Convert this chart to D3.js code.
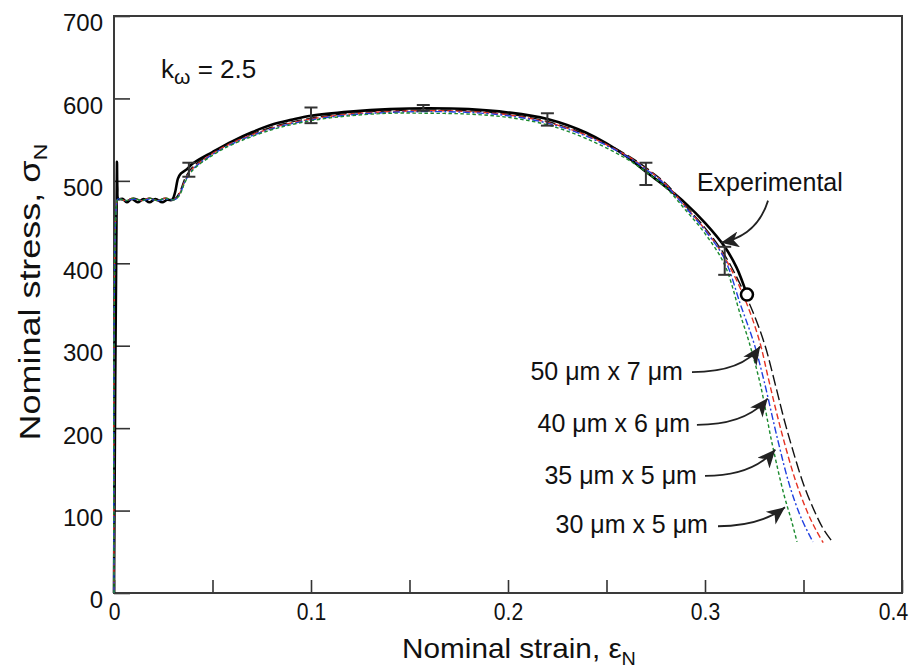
<!DOCTYPE html>
<html>
<head>
<meta charset="utf-8">
<script src="https://cdn.jsdelivr.net/npm/d3@7"></script>
<style>
  body { margin: 0; background: #fff; }
  text { font-family: "Liberation Sans", Arial, sans-serif; fill: #111; }
</style>
</head>
<body>
<svg width="915" height="670"></svg>
<script>
var svg = d3.select("svg"),
    width = +svg.attr("width"),
    height = +svg.attr("height");

// axis ticks
var strainTicks = [0, 0.05, 0.1, 0.15, 0.2, 0.25, 0.3, 0.35, 0.4];
var strainLabels = ["0", "", "0.1", "", "0.2", "", "0.3", "", "0.4"];
var stressTicks = [0, 100, 200, 300, 400, 500, 600, 700];

// experimental curve
var expStrain = [0, 0.0015, 0.0017, 0.0022, 0.0045, 0.0065, 0.009, 0.012, 0.015, 0.018, 0.021, 0.0245, 0.027, 0.0295, 0.031, 0.0325, 0.034, 0.037, 0.04, 0.05, 0.06, 0.07, 0.08, 0.09, 0.10, 0.12, 0.14, 0.16, 0.18, 0.20, 0.22, 0.24, 0.26, 0.27, 0.28, 0.29, 0.30, 0.31, 0.316, 0.3213];
var expStress = [0, 523, 492, 478, 478, 474, 478, 474, 478, 474, 478, 474, 477, 477, 486, 503, 509, 514, 521, 535, 548, 559, 568, 574, 579, 584, 587, 588, 587, 583, 575, 558, 530, 511, 493, 473, 449, 420, 395, 362];

// error bars on the experiment
var errStrain = [0.038, 0.1, 0.157, 0.22, 0.27, 0.31];
var errLow = [505, 570, 585, 567, 495, 386];
var errHigh = [522, 589, 592, 582, 522, 420];

// simulated curves, element size
var simNames = ["50 μm x 7 μm", "40 μm x 6 μm", "35 μm x 5 μm", "30 μm x 5 μm"];

var sim50Strain = [0, 0.0012, 0.002, 0.006, 0.010, 0.014, 0.018, 0.022, 0.026, 0.030, 0.032, 0.034, 0.036, 0.04, 0.05, 0.06, 0.08, 0.10, 0.12, 0.14, 0.16, 0.18, 0.20, 0.22, 0.24, 0.26, 0.27, 0.28, 0.29, 0.30, 0.31, 0.32, 0.325, 0.3305, 0.336, 0.34, 0.344, 0.35, 0.356, 0.36, 0.365];
var sim50Stress = [0, 470, 478, 476, 479, 476, 479, 476, 479, 477, 481, 490, 503, 517, 534, 547, 565, 576, 582, 585, 586, 585, 581, 572, 556, 532, 516, 497, 470, 443, 410, 364, 337, 300, 250, 212, 178, 132, 97, 78, 61];

var sim40Strain = [0, 0.0012, 0.002, 0.006, 0.010, 0.014, 0.018, 0.022, 0.026, 0.030, 0.032, 0.034, 0.036, 0.04, 0.05, 0.06, 0.08, 0.10, 0.12, 0.14, 0.16, 0.18, 0.20, 0.22, 0.24, 0.26, 0.27, 0.28, 0.29, 0.30, 0.31, 0.32, 0.3275, 0.332, 0.336, 0.34, 0.346, 0.352, 0.356, 0.36];
var sim40Stress = [0, 470, 478, 476, 479, 476, 479, 476, 479, 477, 480, 488, 500, 515, 533, 546, 564, 575, 581, 584, 585, 584, 580, 571, 555, 531, 515, 496, 469, 441, 407, 358, 307, 262, 222, 185, 136, 98, 78, 61];

var sim35Strain = [0, 0.0012, 0.002, 0.006, 0.010, 0.014, 0.018, 0.022, 0.026, 0.030, 0.032, 0.034, 0.036, 0.04, 0.05, 0.06, 0.08, 0.10, 0.12, 0.14, 0.16, 0.18, 0.20, 0.22, 0.24, 0.26, 0.27, 0.28, 0.29, 0.30, 0.31, 0.318, 0.325, 0.33, 0.337, 0.343, 0.349, 0.3548];
var sim35Stress = [0, 470, 478, 476, 478, 476, 478, 476, 478, 477, 479, 487, 499, 514, 532, 545, 563, 574, 580, 583, 584, 583, 579, 570, 554, 530, 514, 495, 468, 440, 405, 350, 302, 257, 185, 130, 90, 62];

var sim30Strain = [0, 0.0012, 0.002, 0.006, 0.010, 0.014, 0.018, 0.022, 0.026, 0.030, 0.032, 0.034, 0.036, 0.04, 0.05, 0.06, 0.08, 0.10, 0.12, 0.14, 0.16, 0.18, 0.20, 0.22, 0.24, 0.26, 0.27, 0.28, 0.29, 0.30, 0.31, 0.318, 0.3223, 0.328, 0.334, 0.34, 0.344, 0.3467];
var sim30Stress = [0, 470, 478, 476, 479, 476, 479, 476, 479, 477, 479, 486, 498, 513, 531, 544, 562, 573, 579, 582, 582, 581, 577, 568, 551, 527, 511, 492, 465, 436, 398, 337, 305, 254, 182, 120, 87, 62];

var simColors = ["#111111", "#e53222", "#2040e0", "#1b8a2e"];
var simDashes = ["11,4", "6,3", "7,2.5,2,2.5", "3.5,2.5"];

// annotations (data units)
var labelText = ["Experimental"].concat(simNames);
var labelStrain = [0.2959, 0.2888, 0.2924, 0.2959, 0.3015];
var labelStress = [488, 258, 195, 132, 73];
var labelAnchor = ["start", "end", "end", "end", "end"];
var arrowFrom = [[0.332, 476], [0.2934, 268], [0.2959, 204], [0.3000, 142], [0.3066, 81]];
var arrowCtrl = [[0.3264, 433], [0.3190, 268], [0.3210, 204], [0.3240, 142], [0.3280, 81]];
var arrowTo = [[0.3081, 425], [0.3280, 299], [0.3318, 236], [0.3357, 174], [0.3406, 104]];

var x = d3.scaleLinear().domain([0, 0.4]).range([114, 902]);
var y = d3.scaleLinear().domain([0, 700]).range([593, 16]);

var defs = svg.append("defs");
defs.append("marker")
    .attr("id", "arrowhead")
    .attr("markerUnits", "userSpaceOnUse")
    .attr("markerWidth", 24)
    .attr("markerHeight", 16)
    .attr("refX", 20)
    .attr("refY", 8)
    .attr("orient", "auto")
  .append("path")
    .attr("d", "M20,8 L2,0 L7,8 L2,16 Z")
    .attr("fill", "#222");

// axes, ticks pointing inward
var xAxis = d3.axisBottom(x)
    .tickValues(strainTicks)
    .tickSize(-13)
    .tickPadding(10)
    .tickFormat(function(d, i) { return strainLabels[i]; });

var yAxis = d3.axisLeft(y)
    .tickValues(stressTicks)
    .tickSize(-16)
    .tickPadding(11)
    .tickFormat(function(d) { return d; });

var gx = svg.append("g")
    .attr("transform", "translate(0," + y(0) + ")")
    .call(xAxis);
var gy = svg.append("g")
    .attr("transform", "translate(" + x(0) + ",0)")
    .call(yAxis);

[gx, gy].forEach(function(g) {
  g.select(".domain").remove();
  g.selectAll(".tick line").attr("stroke", "#333").attr("stroke-width", 1.6);
  g.selectAll(".tick text").attr("font-size", 24).attr("fill", "#111")
    .attr("font-family", "Liberation Sans, Arial, sans-serif");
});
gy.selectAll(".tick text").attr("dy", "0.62em");
// strain labels are set narrower in the reference
gx.selectAll(".tick text")
    .attr("transform", function(d, i) { return (i === strainTicks.length - 1 ? "translate(-9,0) " : "") + "scale(0.88,1)"; });

// frame
svg.append("rect")
    .attr("x", x(0))
    .attr("y", y(700))
    .attr("width", x(0.4) - x(0))
    .attr("height", y(0) - y(700))
    .attr("fill", "none")
    .attr("stroke", "#3a3a3a")
    .attr("stroke-width", 2);

var line = d3.line()
    .x(function(d) { return x(d[0]); })
    .y(function(d) { return y(d[1]); })
    .curve(d3.curveCatmullRom.alpha(0.5));

var sims = [
  d3.zip(sim50Strain, sim50Stress),
  d3.zip(sim40Strain, sim40Stress),
  d3.zip(sim35Strain, sim35Stress),
  d3.zip(sim30Strain, sim30Stress)
];

var plot = svg.append("g");

// experimental line
plot.append("path")
    .datum(d3.zip(expStrain, expStress))
    .attr("d", line)
    .attr("fill", "none")
    .attr("stroke", "#000")
    .attr("stroke-width", 2.6)
    .attr("stroke-linejoin", "round");

// simulations drawn on top
sims.forEach(function(s, i) {
  plot.append("path")
      .datum(s)
      .attr("d", line)
      .attr("fill", "none")
      .attr("stroke", simColors[i])
      .attr("stroke-width", 1.4)
      .attr("stroke-dasharray", simDashes[i]);
});

// error bars
var err = plot.selectAll(".err")
    .data(d3.range(errStrain.length))
  .enter().append("g")
    .attr("class", "err")
    .attr("stroke", "#333")
    .attr("stroke-width", 2);
err.append("line")
    .attr("x1", function(i) { return x(errStrain[i]); })
    .attr("x2", function(i) { return x(errStrain[i]); })
    .attr("y1", function(i) { return y(errLow[i]); })
    .attr("y2", function(i) { return y(errHigh[i]); });
err.append("line")
    .attr("x1", function(i) { return x(errStrain[i]) - 6.5; })
    .attr("x2", function(i) { return x(errStrain[i]) + 6.5; })
    .attr("y1", function(i) { return y(errLow[i]); })
    .attr("y2", function(i) { return y(errLow[i]); });
err.append("line")
    .attr("x1", function(i) { return x(errStrain[i]) - 6.5; })
    .attr("x2", function(i) { return x(errStrain[i]) + 6.5; })
    .attr("y1", function(i) { return y(errHigh[i]); })
    .attr("y2", function(i) { return y(errHigh[i]); });

// fracture point of the experiment
plot.append("circle")
    .attr("cx", x(expStrain[expStrain.length - 1]))
    .attr("cy", y(expStress[expStress.length - 1]))
    .attr("r", 6)
    .attr("fill", "#fff")
    .attr("stroke", "#000")
    .attr("stroke-width", 2.5);

// labels and arrows
labelText.forEach(function(t, i) {
  svg.append("text")
      .attr("x", x(labelStrain[i]))
      .attr("y", y(labelStress[i]))
      .attr("text-anchor", labelAnchor[i])
      .attr("font-size", 25)
      .text(t);
  svg.append("path")
      .attr("d", "M" + x(arrowFrom[i][0]) + "," + y(arrowFrom[i][1]) +
                 "Q" + x(arrowCtrl[i][0]) + "," + y(arrowCtrl[i][1]) +
                 " " + x(arrowTo[i][0]) + "," + y(arrowTo[i][1]))
      .attr("fill", "none")
      .attr("stroke", "#222")
      .attr("stroke-width", 1.8)
      .attr("marker-end", "url(#arrowhead)");
});

// k_omega note
var kt = svg.append("text")
    .attr("x", x(0.0239))
    .attr("y", y(625))
    .attr("font-size", 26);
kt.append("tspan").text("k");
kt.append("tspan").attr("font-size", 21).attr("dy", 6).text("ω");
kt.append("tspan").attr("dy", -6).text(" = 2.5");

// axis titles
var xt = svg.append("text")
    .attr("transform", "translate(" + ((x(0) + x(0.4)) / 2 + 11) + ",658) scale(1.1,1)")
    .attr("text-anchor", "middle")
    .attr("font-size", 27);
xt.append("tspan").text("Nominal strain, ε");
xt.append("tspan").attr("font-size", 18).attr("dy", 7).text("N");

var yt = svg.append("text")
    .attr("transform", "translate(40,292) rotate(-90) scale(1.24,1)")
    .attr("text-anchor", "middle")
    .attr("font-size", 29);
yt.append("tspan").text("Nominal stress, σ");
yt.append("tspan").attr("font-size", 19).attr("dy", 7).text("N");
</script>
</body>
</html>
